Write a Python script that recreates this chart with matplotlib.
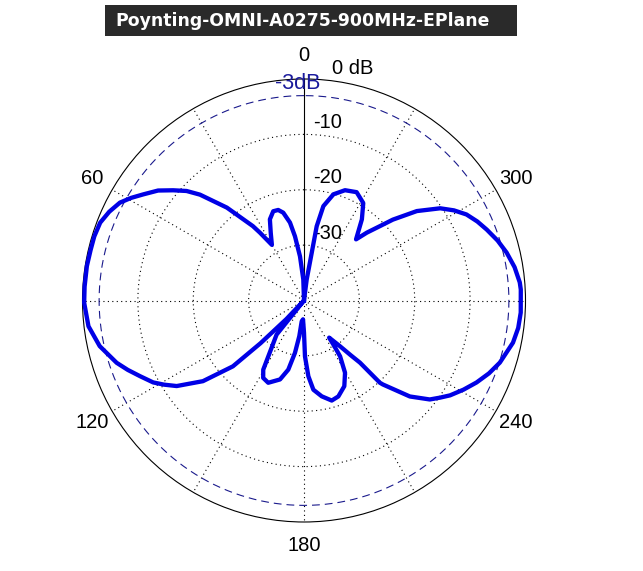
import numpy as np
import matplotlib
matplotlib.use("Agg")
import matplotlib.pyplot as plt
from matplotlib.patches import Rectangle

# ---------------- data ----------------
title = "Poynting-OMNI-A0275-900MHz-EPlane"

angle_deg = [0, 1.9, 5.2, 8.0, 10.2, 13.3, 15.9, 19.0, 22.8, 26.2, 30.0,
             33.0, 34.5, 39.7, 44.5, 47.0, 49.9, 53.0, 56.6, 59.3, 62.0, 65.5,
             69.1, 73.0, 76.7, 81.0, 86.4,
             90.6, 96.8, 102.6, 108.4, 111.5, 114.8, 118.5, 121.0, 123.9,
             128.6, 132.8,
             134.5, 136.5, 139.0, 141.2, 149.5, 152.2, 156.5, 163.1, 167.2,
             170.2, 172.5, 173.7, 177.0, 180.0, 181.0, 183.3, 186.0, 190.5,
             195.5, 199.7, 205.2, 209.6, 212.9, 213.7, 214.1, 218.2, 220.5,
             222.0, 222.7, 223.2, 227.8, 231.8, 234.5, 237.0, 240.8, 244.6,
             248.5, 252.4, 258.6, 262.7,
             266.8, 272.9, 274.8, 279.0, 283.3, 287.2, 291.2, 294.5, 297.9,
             301.0, 304.1, 308.4, 312.3,
             314.4, 317.2, 319.6, 324.5, 328.7, 334.1, 339.6, 344.5, 348.4,
             350.3, 350.8, 352.7, 360.0]
gain_db = [-40, -36.2, -32.0, -28.3, -25.7, -23.7, -23.0, -22.95, -24.1, -26.4, -28.4,
           -25.4, -23.7, -18.2, -13.2, -11.0, -9.1, -7.0, -5.2, -3.7, -2.35, -1.35,
           -0.6, -0.4, -0.4, -0.3, -0.3,
           -0.3, -0.8, -2.2, -4.35, -5.8, -7.4, -9.0, -10.5, -12.3,
           -16.65, -22.5,
           -29.0, -35.4, -40.0, -32.1, -25.5, -24.2, -23.8, -25.1, -27.2,
           -30.4, -33.5, -36.2, -36.6, -34.2, -29.9, -26.3, -23.8, -22.4,
           -21.25, -21.6, -22.9, -25.0, -28.0, -30.4, -31.9, -29.5, -27.0,
           -24.9, -19.8, -19.2, -14.2, -11.1, -9.8, -8.55, -7.0, -5.5,
           -4.1, -2.9, -1.5, -1.0,
           -0.8, -0.8, -0.9, -1.5, -2.4, -3.4, -4.6, -5.6, -6.8,
           -8.4, -10.3, -14.0, -18.3,
           -20.8, -23.3, -25.5, -22.0, -19.4, -18.25, -18.75, -20.1, -22.6,
           -26.4, -31.3, -36.2, -40.0]

ring_values = [-10, -20, -30]
ring_labels = ["-10", "-20", "-30"]
outer_label = "0 dB"
ref_level = -3
ref_label = "-3dB"
angle_ticks = [0, 60, 120, 180, 240, 300]
spoke_angles = [30, 60, 90, 120, 150, 180, 210, 240, 270, 300, 330]
r_min, r_max = -40, 0

# ---------------- figure ----------------
W, H = 643, 571
fig = plt.figure(figsize=(W / 100, H / 100), dpi=100)
fig.patch.set_facecolor("white")

cx, cy, R = 304.0, 300.5, 221.5
ax = fig.add_axes([(cx - R) / W, (H - cy - R) / H, 2 * R / W, 2 * R / H],
                  projection="polar")
ax.set_theta_zero_location("N")
ax.set_theta_direction(1)
ax.set_rlim(r_min, r_max)
ax.grid(False)
ax.set_xticks([])
ax.set_yticks([])
ax.spines["polar"].set_linewidth(0.8)
ax.spines["polar"].set_color("black")

full = np.linspace(0, 2 * np.pi, 721)
dot = (0, (1, 3))

# dotted rings
for v in ring_values:
    ax.plot(full, np.full_like(full, v), color="black", lw=0.8, linestyle=dot)

# dotted spokes
for a in spoke_angles:
    t = np.deg2rad(a)
    ax.plot([t, t], [r_min, r_max], color="black", lw=0.8, linestyle=dot)

# solid boresight line
ax.plot([0, 0], [r_min, r_max], color="black", lw=0.8)

# -3 dB reference
ax.plot(full, np.full_like(full, ref_level), color="#1a1a8c", lw=0.8,
        linestyle=(0, (7, 4.5)))

# pattern
ax.plot(np.deg2rad(angle_deg), gain_db, color="#0000e6", lw=3.1,
        solid_joinstyle="round", clip_on=False, zorder=5)

lab_font = dict(family="Liberation Sans", fontsize=14.5)

# angle labels
for a in angle_ticks:
    ax.text(np.deg2rad(a), 4.24, str(a), ha="center", va="center",
            color="black", **lab_font)

# ring labels
for v, s in zip(ring_values, ring_labels):
    ax.annotate(s, xy=(0, v), xytext=(24, 12), textcoords="offset pixels",
                ha="center", va="center", color="black", **lab_font)
ax.annotate(outer_label, xy=(0, r_max), xytext=(49, 10),
            textcoords="offset pixels", ha="center", va="center",
            color="black", annotation_clip=False, **lab_font)
ax.annotate(ref_label, xy=(0, ref_level), xytext=(-6, 12),
            textcoords="offset pixels", ha="center", va="center",
            color="#1a1a9c", annotation_clip=False,
            family="Liberation Sans", fontsize=15.5)

# title box
fig.patches.append(Rectangle((105 / W, 1 - 36 / H), 412 / W, 31 / H,
                             transform=fig.transFigure, facecolor="#2a2a2a",
                             edgecolor="none", zorder=0))
fig.text(115 / W, 1 - 20.5 / H, title, ha="left", va="center",
         color="white", fontsize=12.4, fontweight="bold", family="DejaVu Sans")

fig.savefig("out.png", dpi=100, facecolor="white")
